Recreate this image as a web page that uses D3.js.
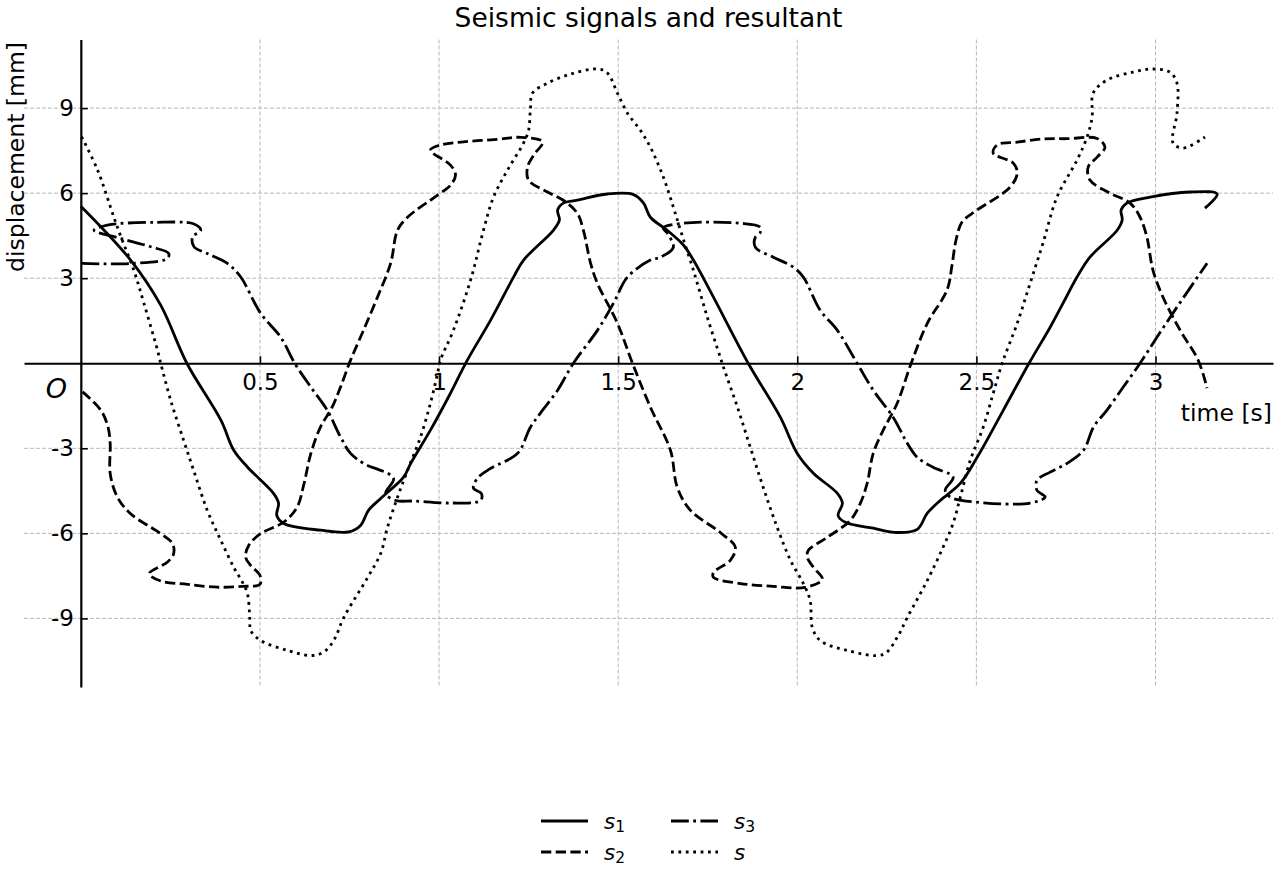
<!DOCTYPE html>
<html>
<head>
<meta charset="utf-8">
<script src="https://cdn.jsdelivr.net/npm/d3@7"></script>
<style>
  body { margin: 0; background: #fff; }
  text { font-family: "DejaVu Sans", sans-serif; fill: #000; }
</style>
</head>
<body>
<script>
// ----- Data: [time s, displacement mm] -----
const s1 = [
  [0,5.54],[0.139,3.64],[0.223,2.05],[0.296,0],[0.391,-2.01],[0.427,-3.07],[0.465,-3.66],
  [0.538,-4.59],[0.552,-4.94],[0.547,-5.37],[0.566,-5.65],[0.669,-5.89],[0.748,-5.95],
  [0.781,-5.72],[0.803,-5.19],[0.837,-4.77],[0.901,-4.02],[0.921,-3.53],[0.976,-2.36],
  [1.026,-1.20],[1.079,0.11],[1.144,1.52],[1.208,3.04],[1.236,3.64],[1.319,4.69],
  [1.336,5.05],[1.331,5.40],[1.347,5.65],[1.386,5.75],[1.470,5.97],[1.543,5.95],
  [1.571,5.65],[1.590,5.15],[1.637,4.69],[1.682,4.17],[1.710,3.64],[1.766,2.33],
  [1.863,0],[1.953,-1.91],[2.000,-3.18],[2.045,-3.88],[2.112,-4.59],[2.126,-4.94],
  [2.114,-5.37],[2.134,-5.61],[2.212,-5.82],[2.279,-5.97],[2.335,-5.86],[2.363,-5.29],
  [2.399,-4.84],[2.455,-4.24],[2.502,-3.32],[2.575,-1.66],[2.647,0],[2.706,1.27],
  [2.742,2.12],[2.781,3.04],[2.817,3.74],[2.893,4.69],[2.907,5.05],[2.904,5.40],
  [2.920,5.65],[2.985,5.86],[3.096,6.04],[3.172,5.97],[3.138,5.47]
];

const s2 = [
  [0.005,-1.01],[0.056,-1.66],[0.076,-2.25],[0.082,-2.83],[0.082,-3.89],[0.102,-4.72],
  [0.139,-5.31],[0.223,-6.01],[0.256,-6.36],[0.259,-6.72],[0.242,-7.01],[0.191,-7.42],
  [0.223,-7.68],[0.298,-7.80],[0.381,-7.90],[0.451,-7.87],[0.500,-7.80],[0.500,-7.48],
  [0.474,-7.13],[0.460,-6.84],[0.469,-6.42],[0.502,-6.01],[0.567,-5.60],[0.604,-5.07],
  [0.623,-4.25],[0.642,-3.19],[0.669,-2.25],[0.702,-1.54],[0.725,-0.84],[0.753,0.11],
  [0.789,1.16],[0.828,2.33],[0.865,3.53],[0.884,4.69],[0.912,5.15],[0.996,5.93],
  [1.032,6.28],[1.046,6.64],[1.032,6.99],[0.976,7.52],[1.004,7.70],[1.068,7.81],
  [1.163,7.90],[1.227,7.97],[1.289,7.81],[1.264,7.34],[1.247,6.92],[1.250,6.46],
  [1.303,6.04],[1.347,5.75],[1.386,5.29],[1.403,4.69],[1.423,3.53],[1.442,2.82],
  [1.498,1.41],[1.540,0],[1.590,-1.55],[1.646,-3.07],[1.665,-4.38],[1.702,-5.19],
  [1.785,-5.97],[1.827,-6.49],[1.813,-6.95],[1.766,-7.38],[1.766,-7.55],[1.841,-7.77],
  [1.933,-7.87],[2.022,-7.91],[2.070,-7.62],[2.045,-7.20],[2.028,-6.85],[2.031,-6.60],
  [2.084,-6.14],[2.148,-5.54],[2.176,-4.94],[2.195,-4.24],[2.212,-3.18],[2.240,-2.36],
  [2.279,-1.41],[2.318,0],[2.363,1.41],[2.418,2.58],[2.432,3.46],[2.443,4.34],
  [2.460,4.98],[2.498,5.37],[2.594,6.21],[2.614,6.71],[2.603,7.06],[2.547,7.41],
  [2.558,7.70],[2.614,7.80],[2.686,7.91],[2.753,7.92],[2.837,7.93],[2.859,7.62],
  [2.837,7.27],[2.812,6.92],[2.817,6.46],[2.873,6.00],[2.929,5.65],[2.957,5.15],
  [2.976,4.45],[2.993,3.28],[3.021,2.33],[3.069,1.16],[3.119,0.11],[3.144,-0.88]
];

const s3 = [
  [0.002,3.52],[0.139,3.52],[0.242,3.70],[0.245,3.88],[0.195,4.11],[0.112,4.40],
  [0.037,4.69],[0.074,4.87],[0.204,4.97],[0.316,4.91],[0.335,4.69],[0.312,4.46],
  [0.316,4.11],[0.353,3.87],[0.409,3.52],[0.446,3.05],[0.502,1.76],[0.558,0.92],
  [0.597,0],[0.642,-0.84],[0.688,-1.66],[0.725,-2.60],[0.753,-3.18],[0.789,-3.53],
  [0.873,-4.06],[0.851,-4.59],[0.879,-4.84],[0.929,-4.86],[1.032,-4.93],[1.116,-4.84],
  [1.118,-4.59],[1.096,-4.41],[1.107,-4.06],[1.144,-3.71],[1.219,-3.18],[1.255,-2.26],
  [1.283,-1.76],[1.331,-0.95],[1.375,0],[1.442,1.16],[1.487,2.12],[1.526,3.04],
  [1.590,3.64],[1.618,3.74],[1.654,4.09],[1.637,4.59],[1.626,4.77],[1.682,4.94],
  [1.841,4.94],[1.897,4.80],[1.897,4.62],[1.883,4.45],[1.883,4.09],[1.933,3.74],
  [1.989,3.39],[2.017,3.04],[2.064,1.87],[2.112,1.16],[2.167,0],[2.212,-0.95],
  [2.268,-1.91],[2.307,-2.82],[2.335,-3.32],[2.379,-3.67],[2.435,-4.02],[2.413,-4.48],
  [2.427,-4.72],[2.501,-4.90],[2.650,-4.93],[2.692,-4.72],[2.669,-4.48],[2.669,-4.13],
  [2.706,-3.84],[2.752,-3.54],[2.799,-3.07],[2.827,-2.25],[2.864,-1.66],[2.910,-0.84],
  [2.957,0],[3.004,0.92],[3.060,1.98],[3.144,3.53]
];

const sRes = [
  [0.002,7.99],[0.047,6.81],[0.092,5.16],[0.112,4.46],[0.148,3.28],[0.176,2.12],
  [0.214,0.46],[0.223,0],[0.251,-1.31],[0.287,-2.72],[0.315,-3.78],[0.353,-5.19],
  [0.391,-6.25],[0.427,-7.20],[0.451,-7.72],[0.465,-8.12],[0.472,-9.07],[0.474,-9.42],
  [0.502,-9.78],[0.577,-10.13],[0.642,-10.31],[0.678,-10.19],[0.706,-9.78],[0.734,-8.97],
  [0.801,-7.55],[0.837,-6.71],[0.856,-5.79],[0.884,-4.73],[0.912,-3.78],[0.948,-2.61],
  [0.976,-1.41],[0.996,-0.35],[1.004,0.11],[1.040,1.16],[1.088,2.93],[1.124,4.69],
  [1.152,5.86],[1.191,6.81],[1.236,7.77],[1.250,8.22],[1.255,8.93],[1.261,9.53],
  [1.303,9.88],[1.367,10.20],[1.442,10.38],[1.470,10.24],[1.498,9.53],[1.526,8.82],
  [1.562,8.22],[1.590,7.62],[1.626,6.57],[1.654,5.51],[1.674,4.69],[1.710,3.28],
  [1.749,1.62],[1.785,0.21],[1.794,-0.14],[1.833,-1.55],[1.869,-2.97],[1.905,-4.38],
  [1.944,-5.79],[1.981,-6.95],[2.017,-7.77],[2.036,-8.37],[2.042,-9.32],[2.064,-9.78],
  [2.139,-10.13],[2.240,-10.27],[2.279,-9.67],[2.307,-8.97],[2.363,-7.66],[2.407,-6.49],
  [2.435,-5.65],[2.455,-4.73],[2.483,-3.42],[2.519,-2.26],[2.547,-1.06],[2.572,0],
  [2.614,1.41],[2.650,2.82],[2.686,4.24],[2.725,5.86],[2.781,7.17],[2.809,7.98],
  [2.823,8.68],[2.826,9.53],[2.865,9.99],[2.937,10.27],[2.993,10.38],[3.040,10.27],
  [3.060,9.88],[3.060,8.82],[3.049,7.77],[3.077,7.59],[3.138,7.98]
];

const xTicks = [0.5, 1, 1.5, 2, 2.5, 3];
const yTicks = [9, 6, 3, -3, -6, -9];
const seriesNames = ["s1", "s2", "s3", "s"];

// ----- Layout -----
const width = 1280, height = 880;
const plotLeft = 24, plotRight = 1273, plotTop = 39.5, plotBottom = 687;

const svg = d3.select("body")
    .append("svg")
    .attr("width", width)
    .attr("height", height);

const x = d3.scaleLinear().domain([-0.1586, 3.328]).range([plotLeft, plotRight]);
const y = d3.scaleLinear().domain([-11.42, 11.42]).range([plotBottom, plotTop]);

// Grid lines
svg.append("g")
    .selectAll("line")
    .data(xTicks)
    .enter()
    .append("line")
    .attr("x1", d => x(d)).attr("x2", d => x(d))
    .attr("y1", plotTop).attr("y2", plotBottom)
    .attr("stroke", "#b8b8b8")
    .attr("stroke-width", 1)
    .attr("stroke-dasharray", "4,2");

svg.append("g")
    .selectAll("line")
    .data(yTicks)
    .enter()
    .append("line")
    .attr("x1", plotLeft).attr("x2", plotRight)
    .attr("y1", d => y(d)).attr("y2", d => y(d))
    .attr("stroke", "#b8b8b8")
    .attr("stroke-width", 1)
    .attr("stroke-dasharray", "4,2");

// Axes through the origin, ticks pointing inward
const xAxis = svg.append("g")
    .attr("transform", "translate(0," + y(0) + ")")
    .call(d3.axisBottom(x).tickValues(xTicks).tickFormat(d => String(d))
        .tickSizeInner(-7).tickSizeOuter(0).tickPadding(10));

const yAxis = svg.append("g")
    .attr("transform", "translate(" + x(0) + ",0)")
    .call(d3.axisLeft(y).tickValues(yTicks).tickFormat(d => String(d))
        .tickSizeInner(-7).tickSizeOuter(0).tickPadding(7));

[xAxis, yAxis].forEach(g => {
    g.select(".domain").attr("stroke", "#000").attr("stroke-width", 2.2);
    g.selectAll(".tick line").attr("stroke", "#000").attr("stroke-width", 1.6);
    g.selectAll(".tick text")
        .style("font-family", "DejaVu Sans")
        .style("font-size", "23px")
        .attr("fill", "#000");
});

// ----- Curves -----
const styles = {
    s1: "none",
    s2: "10.3,4.4",
    s3: "17.8,4.4,2.8,4.4",
    s: "2.8,4.6"
};
const seriesData = { s1: s1, s2: s2, s3: s3, s: sRes };

const line = d3.line()
    .x(d => x(d[0]))
    .y(d => y(d[1]))
    .curve(d3.curveCatmullRom.alpha(0.5));

seriesNames.forEach(name => {
    svg.append("path")
        .datum(seriesData[name])
        .attr("d", line)
        .attr("fill", "none")
        .attr("stroke", "#000")
        .attr("stroke-width", 2.8)
        .attr("stroke-linejoin", "round")
        .attr("stroke-dasharray", styles[name]);
});

// ----- Labels -----
svg.append("text")
    .attr("x", (plotLeft + plotRight) / 2)
    .attr("y", 27)
    .attr("text-anchor", "middle")
    .style("font-size", "26.5px")
    .text("Seismic signals and resultant");

svg.append("text")
    .attr("transform", "translate(24,42) rotate(-90)")
    .attr("text-anchor", "end")
    .style("font-size", "23.5px")
    .text("displacement [mm]");

svg.append("text")
    .attr("x", 1272)
    .attr("y", 421)
    .attr("text-anchor", "end")
    .style("font-size", "23.5px")
    .text("time [s]");

svg.append("text")
    .attr("x", 67)
    .attr("y", 398)
    .attr("text-anchor", "end")
    .style("font-size", "27px")
    .style("font-style", "italic")
    .text("O");

// ----- Legend (two columns, filled column-wise) -----
const legend = svg.append("g");
seriesNames.forEach((name, i) => {
    const col = Math.floor(i / 2), row = i % 2;
    const lx = 541 + col * 130, ly = 821 + row * 31;
    legend.append("line")
        .attr("x1", lx).attr("x2", lx + 47)
        .attr("y1", ly).attr("y2", ly)
        .attr("stroke", "#000")
        .attr("stroke-width", 2.8)
        .attr("stroke-dasharray", styles[name]);
    const t = legend.append("text")
        .attr("x", lx + 63)
        .attr("y", ly + 7.5);
    t.append("tspan")
        .style("font-style", "italic")
        .style("font-size", "21.5px")
        .text("s");
    if (name.length > 1) {
        t.append("tspan")
            .attr("dy", 3)
            .style("font-size", "15.5px")
            .text(name.slice(1));
    }
});
</script>
</body>
</html>
